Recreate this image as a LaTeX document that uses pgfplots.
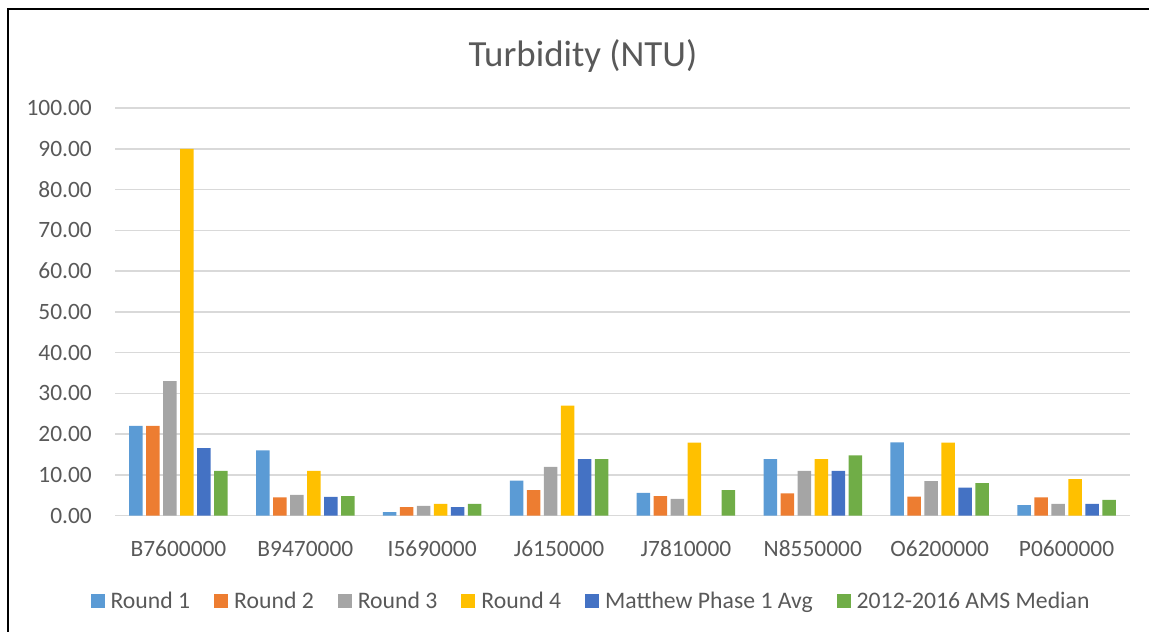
\documentclass[border=0pt]{standalone}
\usepackage{pgfplots}
\pgfplotsset{compat=1.18}
\usepackage{fontspec}
\setmainfont{Carlito}
\definecolor{txt}{HTML}{595959}
\definecolor{gridc}{HTML}{D9D9D9}
\definecolor{c1}{HTML}{5B9BD5}
\definecolor{c2}{HTML}{ED7D31}
\definecolor{c3}{HTML}{A5A5A5}
\definecolor{c4}{HTML}{FFC000}
\definecolor{c5}{HTML}{4472C4}
\definecolor{c6}{HTML}{70AD47}
\begin{document}
\begin{tikzpicture}[x=1bp,y=1bp]
\path[use as bounding box] (0,0) rectangle (1149,632);
\draw[line width=2.5bp] (8,0) -- (8,623) -- (1149,623);
\begin{axis}[
  at={(115bp,116.3bp)}, anchor=south west,
  scale only axis, width=1015bp, height=407.7bp,
  ymin=0, ymax=100, xmin=-0.5, xmax=7.5,
  ybar=3.5bp, bar width=13.5bp,
  ytick={0,10,...,100},
  xtick={0,...,7},
  xticklabels={B7600000,B9470000,I5690000,J6150000,J7810000,N8550000,O6200000,P0600000},
  ymajorgrids, xmajorgrids=false,
  grid style={draw=gridc, line width=1.5bp},
  axis line style={draw=none},
  major tick length=0pt,
  tick label style={font=\fontsize{23.5}{28}\selectfont, text=txt},
  /pgf/number format/fixed,
  /pgf/number format/fixed zerofill,
  /pgf/number format/precision=2,
  /pgf/number format/assume math mode=true,
  yticklabel style={anchor=east, inner sep=0pt, xshift=-23bp},
  xticklabel style={anchor=base, inner sep=0pt, yshift=-41bp},
  title={Turbidity (NTU)},
  title style={at={(rel axis cs:0.461,1.0859)}, anchor=base, font=\fontsize{37}{42}\selectfont, text=txt, inner sep=0pt},
  legend columns=6,
  legend style={at={(rel axis cs:0.469,-0.2092)}, anchor=center, draw=none, fill=none,
    font=\fontsize{23.8}{28}\selectfont, text=txt,
    /tikz/every odd column/.append style={column sep=4bp},
    /tikz/every even column/.append style={column sep=22bp}},
  legend cell align=left,
  legend image code/.code={\fill[#1] (0bp,-7bp) rectangle (14bp,7bp);},
]
\addplot[fill=c1, draw=none] coordinates {(0,22) (1,16) (2,0.9) (3,8.6) (4,5.6) (5,13.9) (6,18) (7,2.6)};
\addplot[fill=c2, draw=none] coordinates {(0,22) (1,4.5) (2,2.1) (3,6.3) (4,4.8) (5,5.5) (6,4.7) (7,4.5)};
\addplot[fill=c3, draw=none] coordinates {(0,33) (1,5.1) (2,2.4) (3,12) (4,4.1) (5,11) (6,8.5) (7,2.9)};
\addplot[fill=c4, draw=none] coordinates {(0,90) (1,11) (2,2.9) (3,27) (4,17.9) (5,13.9) (6,17.9) (7,9)};
\addplot[fill=c5, draw=none] coordinates {(0,16.6) (1,4.6) (2,2.1) (3,13.9) (5,11) (6,6.9) (7,2.9)};
\addplot[fill=c6, draw=none] coordinates {(0,11) (1,4.8) (2,2.9) (3,13.9) (4,6.3) (5,14.8) (6,8) (7,3.9)};
\legend{Round 1, Round 2, Round 3, Round 4, Matthew Phase 1 Avg, 2012-2016 AMS Median}
\end{axis}
\end{tikzpicture}
\end{document}
